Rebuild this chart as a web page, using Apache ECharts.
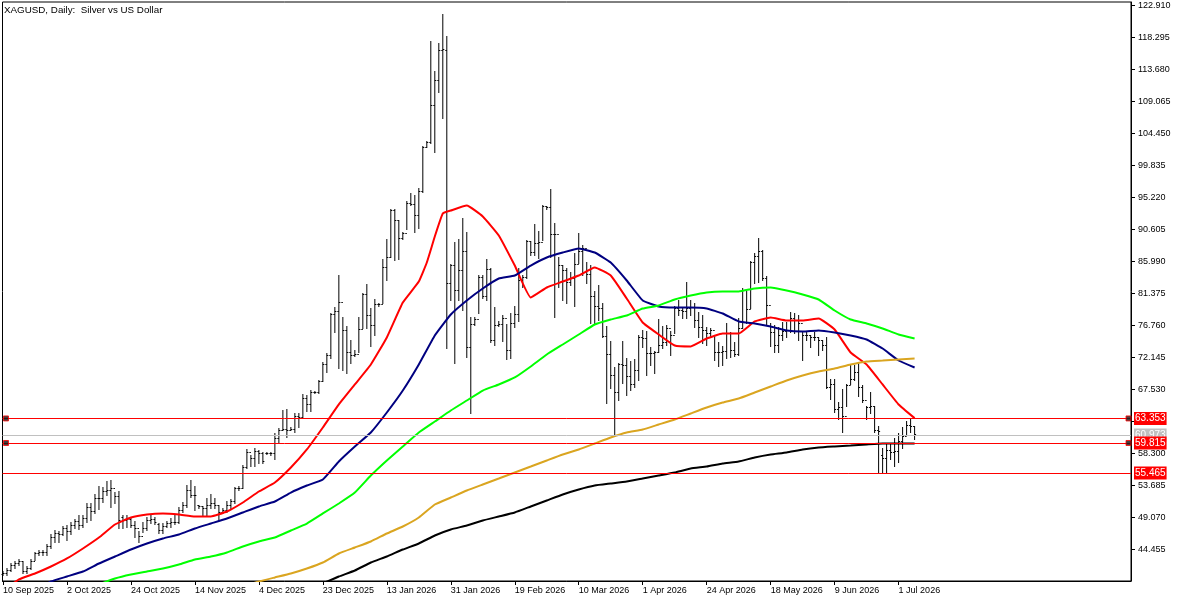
<!DOCTYPE html>
<html>
<head>
<meta charset="utf-8">
<title>XAGUSD, Daily</title>
<script src="https://cdn.jsdelivr.net/npm/echarts@6/dist/echarts.min.js"></script>
<style>
html, body { margin: 0; padding: 0; background: #fff; }
#main { width: 1179px; height: 602px; }
</style>
</head>
<body>
<div id="main"></div>
<script>
var titleText = 'XAGUSD, Daily:  Silver vs US Dollar';

// date labels, one every 16 bars
var dateLabels = ['10 Sep 2025', '2 Oct 2025', '24 Oct 2025', '14 Nov 2025', '4 Dec 2025', '23 Dec 2025', '13 Jan 2026', '31 Jan 2026',
    '19 Feb 2026', '10 Mar 2026', '1 Apr 2026', '24 Apr 2026', '18 May 2026', '9 Jun 2026', '1 Jul 2026'];
var dateBars = [0, 16, 32, 48, 64, 80, 96, 112, 128, 144, 160, 176, 192, 208, 224];
var priceTicks = [122.91, 118.295, 113.68, 109.065, 104.45, 99.835, 95.22, 90.605, 85.99, 81.375, 76.76, 72.145, 67.53, 62.915, 58.3, 53.685, 49.07, 44.455];

// daily bars
var highs = [41.3,41.7,42.4,42.7,43.0,42.7,42.0,43.0,44.0,44.3,44.3,45.2,46.6,47.2,47.1,47.8,47.9,48.4,48.8,49.4,
    49.4,51.1,51.1,52.4,53.5,53.4,54.3,54.4,52.7,52.8,49.4,49.4,49.1,48.5,47.1,48.4,49.1,49.4,49.1,48.2,
    48.2,48.5,48.9,49.5,50.5,51.2,53.7,54.4,53.5,50.8,50.7,51.8,52.4,51.8,50.8,50.4,51.4,51.7,53.4,53.5,
    56.6,58.9,58.0,59.0,58.7,58.4,58.4,58.4,61.2,61.9,64.5,64.6,62.1,64.1,64.1,66.8,66.7,67.4,67.2,68.8,
    71.4,72.7,78.5,79.3,84.0,77.9,76.6,74.6,73.2,77.9,81.4,82.7,79.2,80.5,79.9,86.3,89.2,93.5,93.5,91.9,
    90.2,94.6,95.8,95.5,96.5,102.6,103.3,117.7,113.4,117.4,121.6,118.4,85.6,88.8,89.2,92.2,90.2,77.9,77.9,84.0,
    84.0,86.3,85.0,79.3,77.3,78.2,76.9,78.5,79.5,85.0,84.0,89.0,88.9,91.3,90.3,94.1,93.9,96.4,91.5,86.6,
    85.4,85.0,84.4,87.2,90.0,88.3,85.9,85.4,81.7,82.5,79.9,76.6,74.5,70.7,71.3,74.5,72.0,71.6,71.9,75.3,
    76.0,75.9,73.6,73.0,77.6,76.6,76.8,75.9,79.5,80.4,79.3,83.0,80.4,79.9,78.6,78.2,76.5,76.3,75.3,74.3,
    73.7,77.1,75.8,74.3,77.8,82.1,81.7,86.0,87.2,89.3,87.6,83.8,77.1,76.8,76.5,77.2,77.2,78.6,78.5,78.2,
    75.8,75.8,75.3,75.8,75.0,74.6,75.0,69.0,69.0,65.7,67.5,68.3,71.0,71.0,71.4,68.1,65.1,67.1,65.1,62.2,
    59.0,59.6,59.6,60.5,61.2,62.1,62.9,63.2,62.2];
var lows = [40.7,40.7,41.3,41.7,42.2,41.0,41.0,41.6,42.9,43.6,43.6,43.6,44.6,45.5,45.5,46.5,45.8,46.6,47.5,47.4,
    47.6,48.4,48.6,49.6,50.2,51.2,52.3,50.5,51.1,47.5,47.5,47.6,47.6,46.2,45.5,46.9,47.2,48.2,48.1,46.8,
    46.8,47.6,47.6,48.1,48.2,49.8,50.5,51.9,50.1,50.4,49.4,49.4,50.4,50.4,48.7,49.6,49.8,50.4,51.1,52.9,
    53.3,56.1,56.4,56.4,56.9,56.9,58.2,58.0,57.4,59.9,61.6,60.6,61.6,61.3,62.1,63.3,64.4,64.4,66.9,66.9,
    68.7,70.0,72.0,75.8,70.6,70.3,69.8,71.3,72.3,72.9,76.3,76.3,73.7,75.3,79.5,79.9,83.3,86.6,86.1,86.3,
    89.2,90.6,94.0,90.2,90.8,95.9,102.4,103.0,101.7,110.4,106.6,73.4,80.4,71.3,80.4,78.9,72.2,64.1,76.8,78.5,
    80.7,80.4,74.3,73.9,76.6,74.4,71.9,72.0,76.5,77.3,82.2,83.5,86.9,86.9,86.4,89.0,93.5,86.6,77.9,82.3,
    80.4,79.9,82.5,79.5,85.7,84.0,82.8,77.0,77.0,77.5,75.0,65.5,67.7,60.8,65.9,68.4,66.7,67.4,67.8,68.8,
    73.6,69.5,71.0,69.8,72.9,73.4,73.9,72.4,75.6,78.2,77.8,77.8,78.2,76.5,75.0,74.2,73.9,75.0,71.7,70.9,
    71.0,72.0,72.2,72.3,72.4,76.3,77.0,79.2,82.8,83.0,83.3,76.8,73.7,72.9,72.9,74.6,75.0,75.8,75.6,74.6,
    71.7,74.6,73.6,74.6,72.4,73.2,67.7,66.1,64.2,63.2,61.3,65.1,68.3,68.8,66.5,65.7,63.2,64.1,61.3,55.4,
    55.6,55.6,57.4,56.4,57.0,59.0,60.9,61.3,60.3];
var opens = [40.9,41.0,41.4,42.2,42.4,42.7,41.3,41.7,42.7,43.9,44.0,44.0,44.9,46.2,46.8,46.6,47.5,47.1,47.9,48.5,
    47.9,48.9,50.5,49.9,51.8,51.8,52.8,52.9,53.3,52.1,49.1,48.6,48.8,47.9,47.5,46.3,47.5,48.6,48.8,48.1,
    47.2,47.8,48.2,48.4,48.4,50.1,50.8,53.0,52.3,50.8,50.7,50.4,50.8,51.1,50.8,49.8,50.1,50.8,51.4,53.3,
    53.3,56.3,58.4,57.6,58.6,58.3,58.3,58.3,58.3,60.5,61.6,61.8,61.6,61.8,63.6,63.5,66.2,65.4,67.1,67.1,
    68.7,71.1,72.4,78.3,78.8,80.1,76.0,72.9,72.4,72.6,76.2,81.2,78.2,76.8,79.8,79.8,85.1,86.6,93.3,91.9,
    89.3,90.0,94.3,94.2,92.6,96.1,102.4,103.2,108.5,112.1,116.4,116.4,82.8,85.4,81.8,84.7,87.4,73.6,76.9,77.6,
    83.7,80.9,84.8,74.6,76.8,76.9,77.8,73.2,77.1,78.3,83.3,83.7,88.9,87.3,88.6,88.7,93.9,93.8,89.9,89.9,
    85.4,84.7,83.0,83.5,85.6,87.4,87.9,84.1,80.9,79.5,79.2,75.2,72.6,69.5,67.1,71.1,71.0,69.4,68.3,70.3,
    75.0,74.9,72.7,72.7,72.9,73.9,74.3,76.3,75.3,79.2,78.9,78.8,79.2,79.3,77.5,76.5,76.0,75.6,76.0,72.9,
    72.9,73.0,75.6,73.2,72.6,76.3,81.8,79.1,85.9,86.7,87.4,83.5,79.7,75.8,73.9,75.3,75.9,76.0,77.8,77.5,
    77.1,75.3,75.3,75.0,75.0,74.6,73.9,67.8,68.3,64.6,64.9,63.6,68.1,69.0,70.0,67.8,65.9,64.9,65.1,61.6,
    58.0,57.6,58.7,58.4,58.6,60.0,60.8,62.3,62.2];
var closes = [41.0,41.4,42.2,42.4,42.7,41.3,41.7,42.7,43.9,44.0,44.0,44.9,46.2,46.8,46.6,47.5,47.1,47.9,48.5,47.9,
    48.9,50.5,49.9,51.8,51.8,52.8,52.9,53.3,52.1,48.6,48.6,48.8,47.9,47.5,46.3,47.5,48.6,48.8,48.4,47.2,
    47.8,48.2,48.4,48.4,50.1,50.8,53.0,52.3,52.3,50.7,50.4,50.8,51.1,50.8,49.8,50.1,50.8,51.4,53.3,53.3,
    56.3,58.4,57.6,58.6,58.3,57.2,58.3,58.3,60.5,61.6,61.8,61.6,61.8,63.6,63.5,66.2,65.4,67.1,67.1,68.7,
    71.1,72.4,78.3,78.8,80.1,76.0,72.9,72.4,72.6,76.2,81.2,78.2,76.8,79.8,79.8,85.1,86.6,93.3,91.9,89.3,
    90.0,94.3,94.2,92.6,96.1,102.4,103.2,108.5,112.1,116.4,116.6,82.8,85.4,81.8,84.7,87.4,73.6,76.9,77.6,83.7,
    80.9,84.8,74.6,76.8,76.9,77.8,73.2,77.1,78.3,83.3,83.7,88.9,87.3,88.6,88.7,93.9,93.8,89.9,89.9,85.4,
    84.7,83.0,83.5,85.6,87.4,87.9,84.1,80.9,79.5,79.2,75.2,72.6,69.5,67.1,71.1,71.0,69.4,68.3,70.3,75.0,
    74.9,72.7,72.7,72.9,73.9,74.3,76.3,75.3,79.2,78.9,78.8,79.2,79.3,77.5,76.5,76.0,75.6,76.0,72.9,72.9,
    73.0,75.6,73.2,72.6,76.3,81.8,79.1,85.9,86.7,87.4,83.5,79.7,75.8,73.9,75.3,75.9,76.0,77.8,77.5,77.1,
    75.3,75.3,75.0,75.0,74.6,73.9,67.8,68.3,64.6,64.9,63.6,68.1,69.0,70.0,67.8,65.9,64.9,65.1,61.6,61.5,
    57.6,58.7,58.4,58.6,60.0,60.8,62.3,62.2,61.0];

// moving averages, read every 4th bar
var maBars = [0,4,8,12,16,20,24,28,32,36,40,44,48,52,56,60,64,68,72,76,80,84,88,92,96,100,104,108,112,116,
    120,124,128,132,136,140,144,148,152,156,160,164,168,172,176,180,184,188,192,196,200,204,208,212,216,220,224,228];
// the fast one has a sharp corner near its top, so two more readings there
var maRedBars = [0,4,8,12,16,20,24,28,32,36,40,44,48,52,56,60,64,68,72,76,80,84,88,92,96,100,104,106,108,110,112,116,
    120,124,128,132,136,140,144,148,152,156,160,164,168,172,176,180,184,188,192,196,200,204,208,212,216,220,224,228];
var maRed = [38.54,40.13,40.99,42.0,43.16,44.6,46.18,48.06,49.07,49.5,49.65,49.5,49.21,49.21,49.93,51.23,52.82,54.12,56.28,58.88,
    62.05,65.37,68.25,71.13,75.03,80.07,83.1,85.85,89.59,92.91,93.34,94.06,92.48,89.74,85.41,80.8,82.24,83.1,83.97,85.12,83.97,80.65,
    77.19,75.46,73.87,73.73,74.88,75.6,75.6,77.34,77.91,77.48,77.48,77.77,76.18,72.87,71.13,68.25,65.37,63.4];
var maNavy = [37.1,37.82,38.54,39.84,40.56,41.28,42.43,43.44,44.45,45.32,46.04,46.62,47.48,48.2,48.92,49.79,50.66,51.38,52.67,53.68,
    54.55,57.15,59.31,61.33,64.21,67.38,71.13,75.32,78.35,80.37,82.1,83.54,83.97,85.41,86.57,87.29,87.87,87.29,85.84,83.25,
    80.37,79.5,79.35,79.35,79.21,78.49,77.34,77.05,76.62,76.04,75.89,76.04,75.75,75.32,74.74,73.44,71.71,70.7];
var maGreen = [33.49,34.5,35.65,36.66,37.53,38.39,39.4,40.27,40.85,41.28,41.71,42.29,43.01,43.44,44.02,44.89,45.61,46.18,47.19,48.2,
    49.65,51.09,52.67,55.12,57.29,59.31,61.33,62.91,64.5,65.94,67.38,68.25,69.26,70.85,72.58,74.02,75.46,76.9,77.62,78.2,
    79.21,79.64,80.51,81.08,81.52,81.66,81.66,82.1,82.24,81.81,81.23,80.51,78.92,77.62,77.05,76.33,75.46,74.88];
var maGold = [null,null,null,null,null,null,null,null,null,null,null,null,null,null,null,
    39.12,39.84,40.42,40.99,41.71,42.58,43.88,44.74,45.61,46.76,47.77,49.07,50.94,51.95,52.96,
    53.83,54.69,55.56,56.42,57.29,58.15,58.88,59.74,60.61,61.33,61.76,62.48,63.2,64.07,64.93,
    65.65,66.23,67.1,67.96,68.83,69.55,70.13,70.56,71.13,71.57,71.71,71.86,72.0];
var maBlack = [null,null,null,null,null,null,null,null,null,null,null,null,null,null,null,null,null,null,null,
    38.54,39.55,40.56,41.42,42.58,43.44,44.45,45.32,46.47,47.34,47.91,48.64,49.21,49.79,50.66,51.52,52.39,53.11,53.68,53.97,
    54.26,54.69,55.12,55.56,56.13,56.42,56.86,57.15,57.72,58.15,58.44,58.88,59.16,59.31,59.45,59.6,59.74,59.74,59.74];

// horizontal levels and their price tags
var redLevels = [63.353, 59.815, 55.465];
var greyLevels = [60.973];
var handleLevels = [63.353, 59.815];

var labelFont = '"Liberation Sans", sans-serif';

var myChart = echarts.init(document.getElementById('main'), null, { renderer: 'canvas' });

function maSeries(name, bars, values, color) {
    return {
        name: name,
        type: 'line',
        // zip the readings with their bar numbers
        data: bars.map(function (bar, i) {
            return [bar, values[i]];
        }),
        symbol: 'none',
        smooth: 0.12,
        silent: true,
        animation: false,
        z: 5,
        lineStyle: { color: color, width: 2 }
    };
}

// one open-high-low-close bar: stem plus a tick either side
function renderBar(params, api) {
    var i = api.value(0);
    var pO = api.coord([i, api.value(1)]);
    var pH = api.coord([i, api.value(2)]);
    var pL = api.coord([i, api.value(3)]);
    var pC = api.coord([i, api.value(4)]);
    var x = pO[0];
    var style = { stroke: '#000', lineWidth: 1 };
    function row(v) {
        return Math.floor(v) + 0.5;
    }
    return {
        type: 'group',
        children: [
            { type: 'line', shape: { x1: x, y1: Math.floor(pH[1]), x2: x, y2: Math.ceil(pL[1]) }, style: style },
            { type: 'line', shape: { x1: x - 1.5, y1: row(pO[1]), x2: x, y2: row(pO[1]) }, style: style },
            { type: 'line', shape: { x1: x, y1: row(pC[1]), x2: x + 1.5, y2: row(pC[1]) }, style: style }
        ]
    };
}

function levelLine(value, color) {
    return {
        yAxis: value,
        lineStyle: { color: color, width: 1, type: 'solid' },
        label: {
            show: true,
            position: 'end',
            distance: 3,
            // the params value gets rounded by the axis, so keep our own
            formatter: function () { return value.toFixed(3); },
            color: '#fff',
            backgroundColor: color,
            fontFamily: labelFont,
            fontSize: 10,
            padding: [2, 1, 1, 1]
        }
    };
}

var barData = opens.map(function (o, i) {
    return [i, o, highs[i], lows[i], closes[i]];
});

var option = {
    backgroundColor: '#fff',
    animation: false,
    title: {
        text: titleText,
        left: 4,
        top: 5,
        padding: 0,
        textStyle: { color: '#000', fontSize: 9.8, fontWeight: 'normal', fontFamily: labelFont }
    },
    grid: { left: 2, right: 48, top: 2, bottom: 21, show: true, borderColor: '#000', borderWidth: 1, backgroundColor: '#fff' },
    xAxis: {
        type: 'value',
        min: -0.125,
        max: 282.125,
        splitLine: { show: false },
        axisLine: { show: true, onZero: false, lineStyle: { color: '#000' } },
        axisTick: { show: true, length: 4, customValues: dateBars, lineStyle: { color: '#000' } },
        axisLabel: {
            customValues: dateBars,
            align: 'left',
            margin: 5,
            color: '#000',
            fontFamily: labelFont,
            fontSize: 9,
            formatter: function (v) { return dateLabels[dateBars.indexOf(v)]; }
        }
    },
    yAxis: {
        type: 'value',
        position: 'right',
        min: 39.91,
        max: 123.415,
        splitLine: { show: false },
        axisLine: { show: true, onZero: false, lineStyle: { color: '#000' } },
        axisTick: { show: true, length: 4, customValues: priceTicks, lineStyle: { color: '#000' } },
        axisLabel: {
            customValues: priceTicks,
            margin: 7,
            color: '#000',
            fontFamily: labelFont,
            fontSize: 9,
            formatter: function (v) { return v.toFixed(3); }
        }
    },
    series: [
        {
            name: 'XAGUSD',
            type: 'custom',
            data: barData,
            renderItem: renderBar,
            encode: { x: 0, y: [1, 2, 3, 4] },
            silent: true,
            animation: false,
            z: 3
        },
        maSeries('MA red', maRedBars, maRed, '#ff0000'),
        maSeries('MA navy', maBars, maNavy, '#000080'),
        maSeries('MA green', maBars, maGreen, '#00ff00'),
        maSeries('MA gold', maBars, maGold, '#daa520'),
        maSeries('MA black', maBars, maBlack, '#000000'),
        {
            name: 'levels',
            type: 'line',
            data: [],
            silent: true,
            z: 6,
            markLine: {
                silent: true,
                animation: false,
                symbol: 'none',
                z: 6,
                data: greyLevels.map(function (v) { return levelLine(v, '#c0c0c0'); })
                    .concat(redLevels.map(function (v) { return levelLine(v, '#ff0000'); }))
            }
        },
        {
            name: 'handles',
            type: 'scatter',
            silent: true,
            z: 7,
            symbol: 'rect',
            symbolSize: 5,
            itemStyle: { color: '#111', borderColor: '#ff0000', borderWidth: 1 },
            data: handleLevels.reduce(function (out, v) {
                out.push([0.75, v], [281.5, v]);
                return out;
            }, [])
        }
    ]
};

myChart.setOption(option);
</script>
</body>
</html>
